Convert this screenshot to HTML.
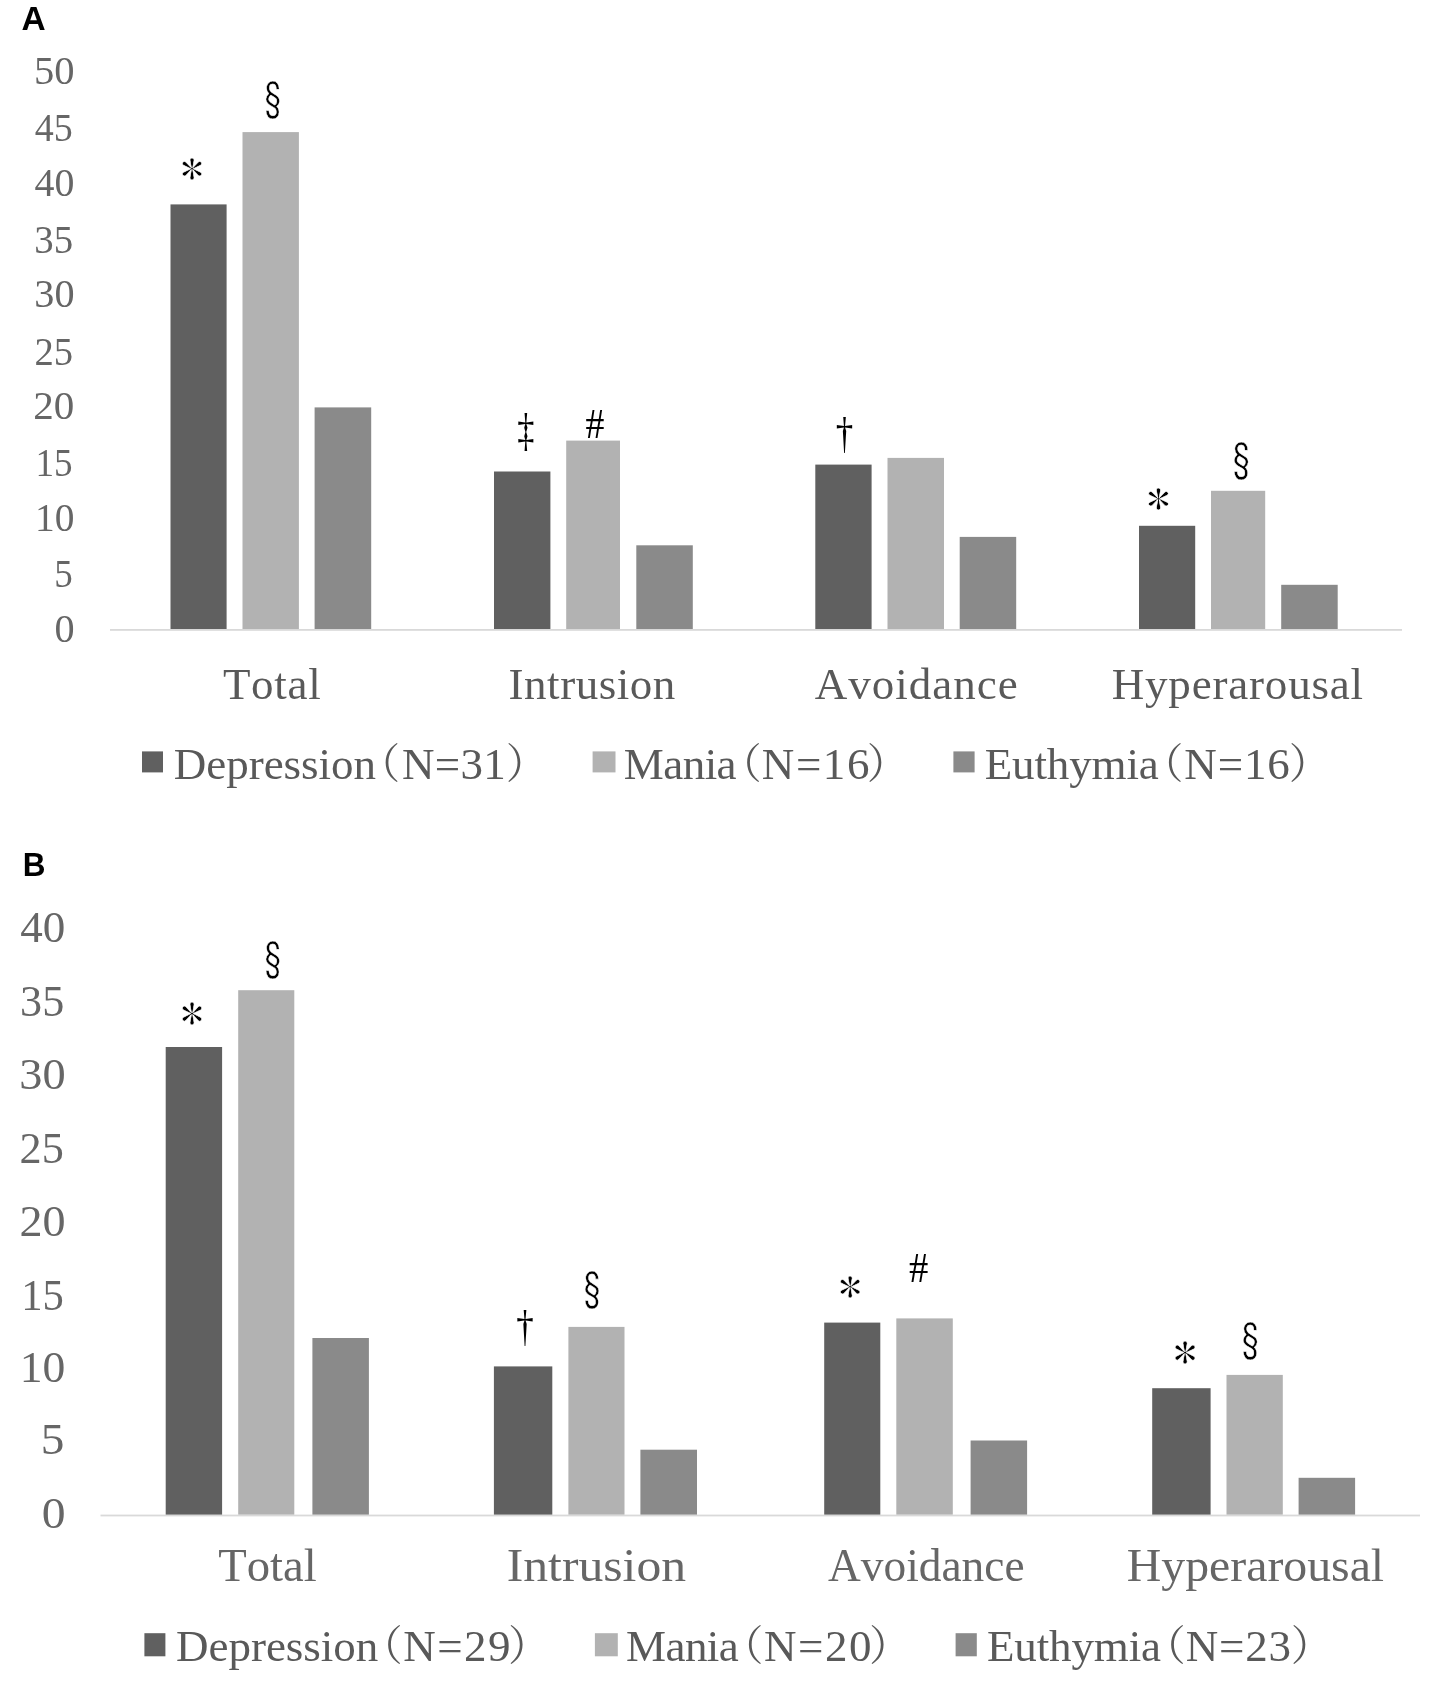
<!DOCTYPE html>
<html lang="en"><head><meta charset="utf-8"><title>Figure</title>
<style>
html,body{margin:0;padding:0;background:#fff;}
body{width:1429px;height:1687px;overflow:hidden;}
svg{display:block;font-family:'Liberation Serif','Noto Serif CJK SC',serif;}
text{font-kerning:none;}
#fig{filter:blur(0.5px);}
</style></head><body>
<svg width="1429" height="1687" viewBox="0 0 1429 1687">
<rect width="1429" height="1687" fill="#fff"/>
<g id="fig">
<!-- Chart A -->
<rect x="110" y="629.0" width="1292" height="1.8" fill="#d9d9d9"/>
<rect x="170.5" y="204.4" width="56.1" height="424.6" fill="#606060"/>
<rect x="242.5" y="132.1" width="56.4" height="496.9" fill="#b2b2b2"/>
<rect x="314.6" y="407.4" width="56.6" height="221.6" fill="#8a8a8a"/>
<rect x="494.0" y="471.5" width="56.4" height="157.5" fill="#606060"/>
<rect x="566.2" y="440.6" width="53.8" height="188.4" fill="#b2b2b2"/>
<rect x="636.3" y="545.3" width="56.5" height="83.7" fill="#8a8a8a"/>
<rect x="815.3" y="464.6" width="56.3" height="164.4" fill="#606060"/>
<rect x="887.5" y="457.9" width="56.5" height="171.1" fill="#b2b2b2"/>
<rect x="959.7" y="536.9" width="56.5" height="92.1" fill="#8a8a8a"/>
<rect x="1139.0" y="525.8" width="56.2" height="103.2" fill="#606060"/>
<rect x="1211.0" y="490.8" width="54.2" height="138.2" fill="#b2b2b2"/>
<rect x="1281.2" y="584.8" width="56.5" height="44.2" fill="#8a8a8a"/>
<rect x="142.0" y="751.4" width="21.0" height="21.0" fill="#606060"/>
<rect x="592.6" y="751.4" width="22.9" height="21.0" fill="#b2b2b2"/>
<rect x="953.4" y="751.4" width="21.2" height="21.0" fill="#8a8a8a"/>
<!-- Chart B -->
<rect x="100.5" y="1514.6" width="1319.5" height="1.8" fill="#d9d9d9"/>
<rect x="165.7" y="1047.0" width="56.4" height="467.6" fill="#606060"/>
<rect x="238.2" y="990.2" width="56.1" height="524.4" fill="#b2b2b2"/>
<rect x="312.4" y="1338.0" width="56.5" height="176.6" fill="#8a8a8a"/>
<rect x="493.9" y="1366.4" width="58.4" height="148.2" fill="#606060"/>
<rect x="568.4" y="1326.9" width="56.1" height="187.7" fill="#b2b2b2"/>
<rect x="640.4" y="1449.7" width="56.6" height="64.9" fill="#8a8a8a"/>
<rect x="824.2" y="1322.6" width="56.1" height="192.0" fill="#606060"/>
<rect x="896.3" y="1318.4" width="56.5" height="196.2" fill="#b2b2b2"/>
<rect x="970.6" y="1440.5" width="56.5" height="74.1" fill="#8a8a8a"/>
<rect x="1152.2" y="1388.2" width="58.4" height="126.4" fill="#606060"/>
<rect x="1226.5" y="1374.9" width="56.3" height="139.7" fill="#b2b2b2"/>
<rect x="1298.6" y="1477.8" width="56.5" height="36.8" fill="#8a8a8a"/>
<rect x="144.4" y="1633.2" width="21.0" height="23.1" fill="#606060"/>
<rect x="594.9" y="1633.2" width="22.9" height="23.1" fill="#b2b2b2"/>
<rect x="955.6" y="1633.2" width="21.2" height="23.1" fill="#8a8a8a"/>
<text transform="matrix(0.9935 0 0 1 54.39 641.89)" font-size="40.5" fill="#666666" style="font-family:'Liberation Serif','Noto Serif CJK SC',serif">0</text>
<text transform="matrix(0.9136 0 0 1 54.18 587.20)" font-size="40.5" fill="#666666" style="font-family:'Liberation Serif','Noto Serif CJK SC',serif">5</text>
<text transform="matrix(0.9735 0 0 1 35.05 530.80)" font-size="40.5" fill="#666666" style="font-family:'Liberation Serif','Noto Serif CJK SC',serif">10</text>
<text transform="matrix(0.9167 0 0 1 35.56 475.80)" font-size="40.5" fill="#666666" style="font-family:'Liberation Serif','Noto Serif CJK SC',serif">15</text>
<text transform="matrix(1.0146 0 0 1 33.15 418.90)" font-size="40.5" fill="#666666" style="font-family:'Liberation Serif','Noto Serif CJK SC',serif">20</text>
<text transform="matrix(0.9526 0 0 1 34.56 364.80)" font-size="40.5" fill="#666666" style="font-family:'Liberation Serif','Noto Serif CJK SC',serif">25</text>
<text transform="matrix(0.9931 0 0 1 34.29 307.40)" font-size="40.5" fill="#666666" style="font-family:'Liberation Serif','Noto Serif CJK SC',serif">30</text>
<text transform="matrix(0.9578 0 0 1 34.36 252.59)" font-size="40.5" fill="#666666" style="font-family:'Liberation Serif','Noto Serif CJK SC',serif">35</text>
<text transform="matrix(0.9850 0 0 1 34.60 195.79)" font-size="40.5" fill="#666666" style="font-family:'Liberation Serif','Noto Serif CJK SC',serif">40</text>
<text transform="matrix(0.9377 0 0 1 34.74 141.40)" font-size="40.5" fill="#666666" style="font-family:'Liberation Serif','Noto Serif CJK SC',serif">45</text>
<text transform="matrix(1.0014 0 0 1 33.97 84.09)" font-size="40.5" fill="#666666" style="font-family:'Liberation Serif','Noto Serif CJK SC',serif">50</text>
<text transform="matrix(1.0701 0 0 1 41.70 1528.45)" font-size="44.5" fill="#666666" style="font-family:'Liberation Serif','Noto Serif CJK SC',serif">0</text>
<text transform="matrix(1.0618 0 0 1 40.77 1454.36)" font-size="44.5" fill="#666666" style="font-family:'Liberation Serif','Noto Serif CJK SC',serif">5</text>
<text transform="matrix(1.0254 0 0 1 19.79 1381.86)" font-size="44.5" fill="#666666" style="font-family:'Liberation Serif','Noto Serif CJK SC',serif">10</text>
<text transform="matrix(0.9583 0 0 1 21.16 1310.26)" font-size="44.5" fill="#666666" style="font-family:'Liberation Serif','Noto Serif CJK SC',serif">15</text>
<text transform="matrix(1.0364 0 0 1 19.52 1236.26)" font-size="44.5" fill="#666666" style="font-family:'Liberation Serif','Noto Serif CJK SC',serif">20</text>
<text transform="matrix(0.9947 0 0 1 19.61 1162.86)" font-size="44.5" fill="#666666" style="font-family:'Liberation Serif','Noto Serif CJK SC',serif">25</text>
<text transform="matrix(1.0421 0 0 1 19.28 1088.56)" font-size="44.5" fill="#666666" style="font-family:'Liberation Serif','Noto Serif CJK SC',serif">30</text>
<text transform="matrix(0.9927 0 0 1 20.09 1016.35)" font-size="44.5" fill="#666666" style="font-family:'Liberation Serif','Noto Serif CJK SC',serif">35</text>
<text transform="matrix(1.0136 0 0 1 20.30 941.65)" font-size="44.5" fill="#666666" style="font-family:'Liberation Serif','Noto Serif CJK SC',serif">40</text>
<text x="222.90" y="698.50" font-size="45" letter-spacing="0.738" fill="#595959" style="font-family:'Liberation Serif','Noto Serif CJK SC',serif">Total</text>
<text x="508.62" y="698.50" font-size="45" letter-spacing="0.513" fill="#595959" style="font-family:'Liberation Serif','Noto Serif CJK SC',serif">Intrusion</text>
<text x="814.75" y="698.50" font-size="45" letter-spacing="1.009" fill="#595959" style="font-family:'Liberation Serif','Noto Serif CJK SC',serif">Avoidance</text>
<text x="1111.75" y="698.50" font-size="45" letter-spacing="0.811" fill="#595959" style="font-family:'Liberation Serif','Noto Serif CJK SC',serif">Hyperarousal</text>
<text transform="matrix(1.0145 0 0 1 218.27 1580.80)" font-size="46" fill="#666666" style="font-family:'Liberation Serif','Noto Serif CJK SC',serif">Total</text>
<text transform="matrix(1.0796 0 0 1 506.76 1580.80)" font-size="46" fill="#666666" style="font-family:'Liberation Serif','Noto Serif CJK SC',serif">Intrusion</text>
<text transform="matrix(0.9863 0 0 1 828.05 1580.80)" font-size="46" fill="#666666" style="font-family:'Liberation Serif','Noto Serif CJK SC',serif">Avoidance</text>
<text transform="matrix(1.0387 0 0 1 1126.87 1580.80)" font-size="46" fill="#666666" style="font-family:'Liberation Serif','Noto Serif CJK SC',serif">Hyperarousal</text>
<text fill="#595959" style="font-family:'Liberation Serif','Noto Serif CJK SC',serif"><tspan x="173.85" y="779.20" font-size="45" letter-spacing="-0.031">Depression</tspan><tspan x="358.49" y="777.85" font-size="41.71" letter-spacing="0">（</tspan><tspan x="402.05" y="779.20" font-size="45" letter-spacing="0.308">N=31</tspan><tspan x="505.69" y="777.85" font-size="41.71" letter-spacing="0">）</tspan></text>
<text fill="#595959" style="font-family:'Liberation Serif','Noto Serif CJK SC',serif"><tspan x="623.85" y="779.20" font-size="45" letter-spacing="-0.562">Mania</tspan><tspan x="719.94" y="777.85" font-size="41.71" letter-spacing="0">（</tspan><tspan x="761.85" y="779.20" font-size="45" letter-spacing="1.558">N=16</tspan><tspan x="866.74" y="777.85" font-size="41.71" letter-spacing="0">）</tspan></text>
<text fill="#595959" style="font-family:'Liberation Serif','Noto Serif CJK SC',serif"><tspan x="984.75" y="779.20" font-size="45" letter-spacing="-0.132">Euthymia</tspan><tspan x="1141.64" y="777.85" font-size="41.71" letter-spacing="0">（</tspan><tspan x="1184.25" y="779.20" font-size="45" letter-spacing="0.892">N=16</tspan><tspan x="1288.74" y="777.85" font-size="41.71" letter-spacing="0">）</tspan></text>
<text fill="#595959" style="font-family:'Liberation Serif','Noto Serif CJK SC',serif"><tspan x="176.05" y="1661.30" font-size="45" letter-spacing="-0.031">Depression</tspan><tspan x="360.99" y="1659.75" font-size="41.71" letter-spacing="0">（</tspan><tspan x="403.15" y="1661.30" font-size="45" letter-spacing="1.508">N=29</tspan><tspan x="508.09" y="1659.75" font-size="41.71" letter-spacing="0">）</tspan></text>
<text fill="#595959" style="font-family:'Liberation Serif','Noto Serif CJK SC',serif"><tspan x="626.05" y="1661.30" font-size="45" letter-spacing="-0.562">Mania</tspan><tspan x="721.79" y="1659.75" font-size="41.71" letter-spacing="0">（</tspan><tspan x="764.05" y="1661.30" font-size="45" letter-spacing="1.500">N=20</tspan><tspan x="868.99" y="1659.75" font-size="41.71" letter-spacing="0">）</tspan></text>
<text fill="#595959" style="font-family:'Liberation Serif','Noto Serif CJK SC',serif"><tspan x="986.95" y="1661.30" font-size="45" letter-spacing="-0.132">Euthymia</tspan><tspan x="1143.89" y="1659.75" font-size="41.71" letter-spacing="0">（</tspan><tspan x="1185.85" y="1661.30" font-size="45" letter-spacing="0.775">N=23</tspan><tspan x="1290.84" y="1659.75" font-size="41.71" letter-spacing="0">）</tspan></text>
<text transform="matrix(1.0357 0 0 1 180.50 186.25)" font-size="44.60" fill="#000" style="font-family:'IPAGothic','Liberation Serif',serif" stroke="#fff" stroke-width="0.55" stroke-linejoin="round">*</text>
<text transform="matrix(0.7723 0 0 1 256.49 116.19)" font-size="42.23" fill="#000" style="font-family:'IPAGothic','Liberation Serif',serif" stroke="#fff" stroke-width="0.5" stroke-linejoin="round">§</text>
<text transform="matrix(0.7554 0 0 1 517.17 445.98)" font-size="45.43" fill="#000" style="font-family:'Liberation Serif','Noto Serif CJK SC',serif">‡</text>
<text transform="matrix(0.9039 0 0 1 585.44 437.60)" font-size="41.85" fill="#000" style="font-family:'Liberation Serif','Noto Serif CJK SC',serif">#</text>
<text transform="matrix(0.7767 0 0 1 835.75 447.92)" font-size="45.06" fill="#000" style="font-family:'Liberation Serif','Noto Serif CJK SC',serif">†</text>
<text transform="matrix(1.0564 0 0 1 1146.77 516.22)" font-size="44.40" fill="#000" style="font-family:'IPAGothic','Liberation Serif',serif" stroke="#fff" stroke-width="0.55" stroke-linejoin="round">*</text>
<text transform="matrix(0.8012 0 0 1 1224.61 477.12)" font-size="41.90" fill="#000" style="font-family:'IPAGothic','Liberation Serif',serif" stroke="#fff" stroke-width="0.5" stroke-linejoin="round">§</text>
<text transform="matrix(1.0174 0 0 1 180.50 1031.05)" font-size="45.40" fill="#000" style="font-family:'IPAGothic','Liberation Serif',serif" stroke="#fff" stroke-width="0.55" stroke-linejoin="round">*</text>
<text transform="matrix(0.7723 0 0 1 256.49 976.19)" font-size="42.23" fill="#000" style="font-family:'IPAGothic','Liberation Serif',serif" stroke="#fff" stroke-width="0.5" stroke-linejoin="round">§</text>
<text transform="matrix(0.7788 0 0 1 516.25 1340.73)" font-size="44.94" fill="#000" style="font-family:'Liberation Serif','Noto Serif CJK SC',serif">†</text>
<text transform="matrix(0.7878 0 0 1 575.55 1306.31)" font-size="42.01" fill="#000" style="font-family:'IPAGothic','Liberation Serif',serif" stroke="#fff" stroke-width="0.5" stroke-linejoin="round">§</text>
<text transform="matrix(1.0463 0 0 1 838.58 1304.15)" font-size="44.60" fill="#000" style="font-family:'IPAGothic','Liberation Serif',serif" stroke="#fff" stroke-width="0.55" stroke-linejoin="round">*</text>
<text transform="matrix(0.9080 0 0 1 908.93 1282.40)" font-size="42.62" fill="#000" style="font-family:'Liberation Serif','Noto Serif CJK SC',serif">#</text>
<text transform="matrix(1.0483 0 0 1 1173.15 1370.13)" font-size="45.20" fill="#000" style="font-family:'IPAGothic','Liberation Serif',serif" stroke="#fff" stroke-width="0.55" stroke-linejoin="round">*</text>
<text transform="matrix(0.8012 0 0 1 1233.41 1356.52)" font-size="41.90" fill="#000" style="font-family:'IPAGothic','Liberation Serif',serif" stroke="#fff" stroke-width="0.5" stroke-linejoin="round">§</text>
<text transform="matrix(0.9943 0 0 1 21.56 30.00)" font-size="33.62" fill="#000" style="font-family:'Liberation Sans',sans-serif" font-weight="bold">A</text>
<text transform="matrix(0.9652 0 0 1 22.65 875.90)" font-size="32.61" fill="#000" style="font-family:'Liberation Sans',sans-serif" font-weight="bold">B</text>
</g>
</svg>
</body></html>
